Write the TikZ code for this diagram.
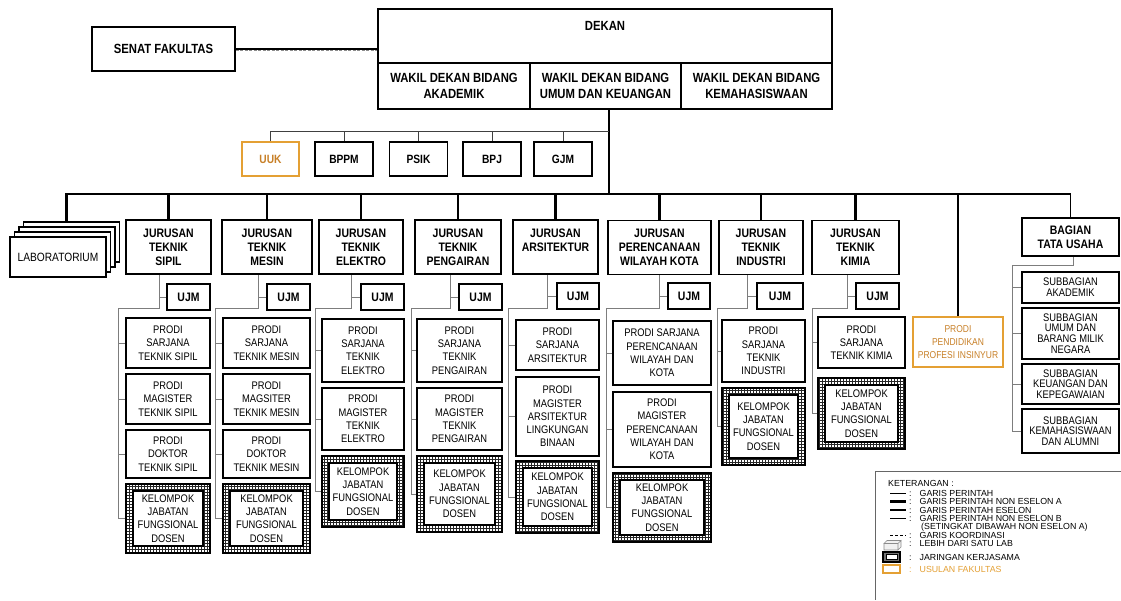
\documentclass[tikz,border=0pt]{standalone}
\usepackage{fontspec}
\setmainfont{Liberation Sans}[FakeStretch=0.85]
\newfontfamily\legendfont{Liberation Sans}
\usetikzlibrary{positioning, patterns}

\definecolor{usulan}{RGB}{228,160,52}
\definecolor{usulantext}{RGB}{200,128,40}
\definecolor{railgray}{RGB}{125,125,125}

\begin{document}
\begin{tikzpicture}[
  x=1pt, y=-1pt,
  box/.style={draw, line width=1.6pt, fill=white, align=center, inner sep=1pt,
    font=\fontsize{12.3}{14}\selectfont\bfseries},
  top/.style={box, font=\fontsize{13.3}{16}\selectfont\bfseries},
  jur/.style={box, minimum height=54pt},
  labbox/.style={box, minimum width=96pt, minimum height=40pt,
    font=\fontsize{12}{14}\selectfont},
  ujm/.style={box, line width=1.8pt, minimum height=26pt},
  prodi/.style={draw, line width=2pt, fill=white, align=center, inner sep=1pt,
    font=\fontsize{11}{13.3}\selectfont},
  sub/.style={prodi, minimum width=97pt, font=\fontsize{11}{10.7}\selectfont},
  kjfd/.style={draw, line width=2pt, pattern=grid, pattern color=black!85,
    align=center, inner sep=1pt, font=\fontsize{11}{13.3}\selectfont,
    path picture={\draw[line width=1.8pt, fill=white]
      ([shift={(7pt,7pt)}]path picture bounding box.south west) rectangle
      ([shift={(-7pt,-7pt)}]path picture bounding box.north east);}},
  usul/.style={draw=usulan, line width=2pt, fill=white, align=center},
  bus/.style={line width=2.8pt},
  eselon/.style={line width=1.8pt},
  staff/.style={line width=1pt, black!75},
  rail/.style={line width=0.9pt, railgray},
  legend/.style={anchor=base west, inner sep=0pt, font=\legendfont\fontsize{8.8}{8.8}\selectfont}
]
\fill[white] (0,0) rectangle (1121,600);
\useasboundingbox (0,0) rectangle (1121,600);

% Pimpinan
\node[top, minimum width=143pt, minimum height=44pt] (senat) at (163.5,49) {SENAT FAKULTAS};
\node[top, minimum width=454pt, minimum height=54pt] (dekan) at (605,36) {};
\node[font=\fontsize{13.3}{16}\selectfont\bfseries, below=10pt of dekan.north] (dekantext) {DEKAN};
\node[top, minimum width=152pt, minimum height=46pt] (wakila) at (454,86) {WAKIL DEKAN BIDANG\\AKADEMIK};
\node[top, minimum width=151pt, minimum height=46pt] (wakilb) at (605.5,86) {WAKIL DEKAN BIDANG\\UMUM DAN KEUANGAN};
\node[top, minimum width=151pt, minimum height=46pt] (wakilc) at (756.5,86) {WAKIL DEKAN BIDANG\\KEMAHASISWAAN};
\draw[line width=0.9pt, black!45, dash pattern=on 3pt off 1.5pt] ([yshift=-1.3pt]senat.east) -- ([yshift=-1.3pt]senat.east -| dekan.west);
\draw[line width=1.8pt] ([yshift=0.4pt]senat.east) -- ([yshift=0.4pt]senat.east -| dekan.west);

% Unit pendukung
\node[box, usul, text=usulantext, font=\fontsize{12}{14}\selectfont\bfseries, minimum width=57pt, minimum height=34pt] (uuk) at (270.5,159) {UUK};
\foreach \name/\x/\txt in {bppm/344/BPPM, psik/418.5/PSIK, bpj/492/BPJ, gjm/563/GJM}
  \node[box, font=\fontsize{12}{14}\selectfont\bfseries, minimum width=58pt, minimum height=34pt] (\name) at (\x,159) {\txt};
\coordinate (stafftap) at (609,131);
\coordinate (bustap) at (609,194);
\coordinate (busend) at (1020,194);
\draw[bus] (wakilb.south -| bustap) -- (bustap);
\draw[staff] (uuk.north) |- (stafftap);
\foreach \u in {bppm,psik,bpj,gjm}
  \draw[staff] (\u.north) -- (\u.north |- stafftap);

% Laboratorium dan jurusan
\node[labbox] (lab3) at (71.5,242) {};
\node[labbox] (lab2) at ([shift={(-4.5,5)}]lab3) {};
\node[labbox] (lab1) at ([shift={(-4.5,5)}]lab2) {};
\node[labbox] (lab) at ([shift={(-4.5,5)}]lab1) {LABORATORIUM};

\node[jur, minimum width=85pt] (sipil) at (168.5,247) {JURUSAN\\TEKNIK\\SIPIL};
\node[jur, minimum width=90pt] (mesin) at (267,247) {JURUSAN\\TEKNIK\\MESIN};
\node[jur, minimum width=84pt] (elektro) at (361,247) {JURUSAN\\TEKNIK\\ELEKTRO};
\node[jur, minimum width=86pt] (pengairan) at (458,247) {JURUSAN\\TEKNIK\\PENGAIRAN};
\node[jur, minimum width=85pt] (arsitektur) at (555.5,247) {JURUSAN\\ARSITEKTUR\\\phantom{X}};
\node[jur, minimum width=103pt] (pwk) at (659.5,247.5) {JURUSAN\\PERENCANAAN\\WILAYAH KOTA};
\node[jur, minimum width=84pt] (industri) at (761,247.5) {JURUSAN\\TEKNIK\\INDUSTRI};
\node[jur, minimum width=87pt] (kimia) at (855.5,247.5) {JURUSAN\\TEKNIK\\KIMIA};
\node[usul, text=usulantext, font=\fontsize{10}{13.3}\selectfont, minimum width=90pt, minimum height=50pt] (ppi) at (958,342) {PRODI\\PENDIDIKAN\\PROFESI INSINYUR};
\node[box, minimum width=97pt, minimum height=38pt] (bagian) at (1070.5,237) {BAGIAN\\TATA USAHA};

\draw[bus] ([xshift=-5pt]lab3.north) |- (busend);
\draw[eselon] (busend) -| (bagian.north);
\foreach \j in {sipil,mesin,elektro,pengairan,arsitektur,pwk,industri,kimia,ppi}
  \draw[bus] (\j.north) -- (\j.north |- bustap);

% Teknik Sipil
\node[ujm, minimum width=43pt] (sipilujm) at (188.5,297) {UJM};
\node[prodi, minimum width=84pt, minimum height=50pt] (sipil1) at (168,343) {PRODI\\SARJANA\\TEKNIK SIPIL};
\node[prodi, minimum width=84pt, minimum height=50pt] (sipil2) at (168,399) {PRODI\\MAGISTER\\TEKNIK SIPIL};
\node[prodi, minimum width=84pt, minimum height=48pt] (sipil3) at (168,454) {PRODI\\DOKTOR\\TEKNIK SIPIL};
\node[kjfd, minimum width=84pt, minimum height=69pt] (sipilk) at (168,518.5) {KELOMPOK\\JABATAN\\FUNGSIONAL\\DOSEN};
\coordinate (sipilstem) at ([xshift=-9.5pt]sipil.south);
\coordinate (sipilrail) at (118,308);
\draw[rail] (sipilstem) |- (sipilrail) |- (sipilk.west);
\draw[rail] (sipilujm.west) -- (sipilstem |- sipilujm.west);
\foreach \p in {1,2,3}
  \draw[rail] (sipil\p.west) -- (sipil\p.west -| sipilrail);

% Teknik Mesin
\node[ujm, minimum width=43pt] (mesinujm) at (288.5,297) {UJM};
\node[prodi, minimum width=87pt, minimum height=50pt] (mesin1) at (266.5,343) {PRODI\\SARJANA\\TEKNIK MESIN};
\node[prodi, minimum width=87pt, minimum height=50pt] (mesin2) at (266.5,399) {PRODI\\MAGSITER\\TEKNIK MESIN};
\node[prodi, minimum width=87pt, minimum height=48pt] (mesin3) at (266.5,454) {PRODI\\DOKTOR\\TEKNIK MESIN};
\node[kjfd, minimum width=87pt, minimum height=69pt] (mesink) at (266.5,518.5) {KELOMPOK\\JABATAN\\FUNGSIONAL\\DOSEN};
\coordinate (mesinstem) at ([xshift=-9pt]mesin.south);
\coordinate (mesinrail) at (215,308);
\draw[rail] (mesinstem) |- (mesinrail) |- (mesink.west);
\draw[rail] (mesinujm.west) -- (mesinstem |- mesinujm.west);
\foreach \p in {1,2,3}
  \draw[rail] (mesin\p.west) -- (mesin\p.west -| mesinrail);

% Teknik Elektro
\node[ujm, minimum width=43pt] (elektroujm) at (382.5,297) {UJM};
\node[prodi, minimum width=82pt, minimum height=63pt] (elektro1) at (363,350.5) {PRODI\\SARJANA\\TEKNIK\\ELEKTRO};
\node[prodi, minimum width=82pt, minimum height=62pt] (elektro2) at (363,419) {PRODI\\MAGISTER\\TEKNIK\\ELEKTRO};
\node[kjfd, minimum width=82pt, minimum height=71pt] (elektrok) at (363,491.5) {KELOMPOK\\JABATAN\\FUNGSIONAL\\DOSEN};
\coordinate (elektrostem) at ([xshift=-10pt]elektro.south);
\coordinate (elektrorail) at (315,308);
\draw[rail] (elektrostem) |- (elektrorail) |- (elektrok.west);
\draw[rail] (elektroujm.west) -- (elektrostem |- elektroujm.west);
\foreach \p in {1,2}
  \draw[rail] (elektro\p.west) -- (elektro\p.west -| elektrorail);

% Teknik Pengairan
\node[ujm, minimum width=43pt] (pengairanujm) at (480.5,297) {UJM};
\node[prodi, minimum width=85pt, minimum height=63pt] (pengairan1) at (459.5,350.5) {PRODI\\SARJANA\\TEKNIK\\PENGAIRAN};
\node[prodi, minimum width=85pt, minimum height=62pt] (pengairan2) at (459.5,419) {PRODI\\MAGISTER\\TEKNIK\\PENGAIRAN};
\node[kjfd, minimum width=85pt, minimum height=76pt] (pengairank) at (459.5,494) {KELOMPOK\\JABATAN\\FUNGSIONAL\\DOSEN};
\coordinate (pengairanstem) at ([xshift=-8pt]pengairan.south);
\coordinate (pengairanrail) at (411,308);
\draw[rail] (pengairanstem) |- (pengairanrail) |- (pengairank.west);
\draw[rail] (pengairanujm.west) -- (pengairanstem |- pengairanujm.west);
\foreach \p in {1,2}
  \draw[rail] (pengairan\p.west) -- (pengairan\p.west -| pengairanrail);

% Arsitektur
\node[ujm, minimum width=42pt] (arsitekturujm) at (578,296) {UJM};
\node[prodi, minimum width=83pt, minimum height=50pt] (arsitektur1) at (557.5,345) {PRODI\\SARJANA\\ARSITEKTUR};
\node[prodi, minimum width=83pt, minimum height=79pt] (arsitektur2) at (557.5,416.5) {PRODI\\MAGISTER\\ARSITEKTUR\\LINGKUNGAN\\BINAAN};
\node[kjfd, minimum width=83pt, minimum height=72pt] (arsitekturk) at (557.5,497) {KELOMPOK\\JABATAN\\FUNGSIONAL\\DOSEN};
\coordinate (arsitekturstem) at ([xshift=-8.5pt]arsitektur.south);
\coordinate (arsitekturrail) at (508,308);
\draw[rail] (arsitekturstem) |- (arsitekturrail) |- (arsitekturk.west);
\draw[rail] (arsitekturujm.west) -- (arsitekturstem |- arsitekturujm.west);
\foreach \p in {1,2}
  \draw[rail] (arsitektur\p.west) -- (arsitektur\p.west -| arsitekturrail);

% Perencanaan Wilayah Kota
\node[ujm, minimum width=42pt] (pwkujm) at (689,296) {UJM};
\node[prodi, minimum width=98pt, minimum height=64pt] (pwk1) at (662,353) {PRODI SARJANA\\PERENCANAAN\\WILAYAH DAN\\KOTA};
\node[prodi, minimum width=98pt, minimum height=75pt] (pwk2) at (662,429.5) {PRODI\\MAGISTER\\PERENCANAAN\\WILAYAH DAN\\KOTA};
\node[kjfd, minimum width=98pt, minimum height=69pt] (pwkk) at (662,507.5) {KELOMPOK\\JABATAN\\FUNGSIONAL\\DOSEN};
\coordinate (pwkstem) at (pwk.south);
\coordinate (pwkrail) at (606,308);
\draw[rail] (pwkstem) |- (pwkrail) |- (pwkk.west);
\draw[rail] (pwkujm.west) -- (pwkstem |- pwkujm.west);
\foreach \p in {1,2}
  \draw[rail] (pwk\p.west) -- (pwk\p.west -| pwkrail);

% Teknik Industri
\node[ujm, minimum width=46pt] (industriujm) at (780,296) {UJM};
\node[prodi, minimum width=83pt, minimum height=62pt] (industri1) at (763.5,351) {PRODI\\SARJANA\\TEKNIK\\INDUSTRI};
\node[kjfd, minimum width=83pt, minimum height=77pt] (industrik) at (763.5,426.5) {KELOMPOK\\JABATAN\\FUNGSIONAL\\DOSEN};
\coordinate (industristem) at ([xshift=-14pt]industri.south);
\coordinate (industrirail) at (717,308);
\draw[rail] (industristem) |- (industrirail) |- (industrik.west);
\draw[rail] (industriujm.west) -- (industristem |- industriujm.west);
\draw[rail] (industri1.west) -- (industri1.west -| industrirail);

% Teknik Kimia
\node[ujm, minimum width=43pt] (kimiaujm) at (877.5,296) {UJM};
\node[prodi, minimum width=87pt, minimum height=51pt] (kimia1) at (861.5,342.5) {PRODI\\SARJANA\\TEKNIK KIMIA};
\node[kjfd, minimum width=87pt, minimum height=71pt] (kimiak) at (861.5,413.5) {KELOMPOK\\JABATAN\\FUNGSIONAL\\DOSEN};
\coordinate (kimiastem) at ([xshift=-8.5pt]kimia.south);
\coordinate (kimiarail) at (812,308);
\draw[rail] (kimiastem) |- (kimiarail) |- (kimiak.west);
\draw[rail] (kimiaujm.west) -- (kimiastem |- kimiaujm.west);
\draw[rail] (kimia1.west) -- (kimia1.west -| kimiarail);

% Tata usaha
\node[sub, minimum height=31pt] (sub1) at (1070.5,287.5) {SUBBAGIAN\\AKADEMIK};
\node[sub, minimum height=51pt] (sub2) at (1070.5,333.5) {SUBBAGIAN\\UMUM DAN\\BARANG MILIK\\NEGARA};
\node[sub, minimum height=40pt] (sub3) at (1070.5,384) {SUBBAGIAN\\KEUANGAN DAN\\KEPEGAWAIAN};
\node[sub, minimum height=44pt] (sub4) at (1070.5,431) {SUBBAGIAN\\KEMAHASISWAAN\\DAN ALUMNI};
\coordinate (turail) at (1012,265);
\draw[rail] ([xshift=2.5pt]bagian.south) |- (turail) |- (sub4.west);
\foreach \s in {1,2,3}
  \draw[rail] (sub\s.west) -- (sub\s.west -| turail);

% Keterangan
\draw[line width=0.8pt, black!60] (1121,471) -| (875,600);
\node[legend] (ket) at (888,486) {KETERANGAN :};
\node[legend] (leg1) at (909,496) {:\hspace{8pt}GARIS PERINTAH};
\node[legend] (leg2) at (909,504.5) {:\hspace{8pt}GARIS PERINTAH NON ESELON A};
\node[legend] (leg3) at (909,513) {:\hspace{8pt}GARIS PERINTAH ESELON};
\node[legend] (leg4) at (909,521.5) {:\hspace{8pt}GARIS PERINTAH NON ESELON B};
\node[legend] (leg4b) at (921,529.5) {(SETINGKAT DIBAWAH NON ESELON A)};
\node[legend] (leg5) at (909,538.5) {:\hspace{8pt}GARIS KOORDINASI};
\node[legend] (leg6) at (909,546.5) {:\hspace{8pt}LEBIH DARI SATU LAB};
\node[legend] (leg7) at (909,560) {:\hspace{8pt}JARINGAN KERJASAMA};
\node[legend, text=usulan] (leg8) at (909,572) {:\hspace{8pt}USULAN FAKULTAS};
\draw[line width=0.8pt] ([shift={(-19pt,3pt)}]leg1.base west) -- ([shift={(-3pt,3pt)}]leg1.base west);
\draw[line width=2.6pt] ([shift={(-19pt,3pt)}]leg2.base west) -- ([shift={(-3pt,3pt)}]leg2.base west);
\draw[line width=1.8pt] ([shift={(-19pt,3pt)}]leg3.base west) -- ([shift={(-3pt,3pt)}]leg3.base west);
\draw[line width=0.8pt] ([shift={(-19pt,3pt)}]leg4.base west) -- ([shift={(-3pt,3pt)}]leg4.base west);
\draw[line width=0.8pt, dash pattern=on 3pt off 2pt] ([shift={(-19pt,3pt)}]leg5.base west) -- ([shift={(-3pt,3pt)}]leg5.base west);
\filldraw[fill=black!6, draw=black!45, line width=0.6pt]
  (884,550) rectangle (898,543.5)
  (884,543.5) -- (887,540.5) -- (901,540.5) -- (898,543.5) -- cycle
  (898,550) -- (901,547) -- (901,540.5) -- (898,543.5) -- cycle;
\node[draw, line width=1.4pt, fill=black!55, minimum width=17pt, minimum height=10pt, inner sep=0pt] (legjar) at (891.5,557) {};
\node[draw, line width=0.7pt, fill=white, minimum width=11pt, minimum height=4.5pt, inner sep=0pt] (legjarin) at (legjar) {};
\node[draw=usulan, line width=2pt, minimum width=17pt, minimum height=8pt, inner sep=0pt] (legusul) at (891.5,569) {};

\end{tikzpicture}
\end{document}
